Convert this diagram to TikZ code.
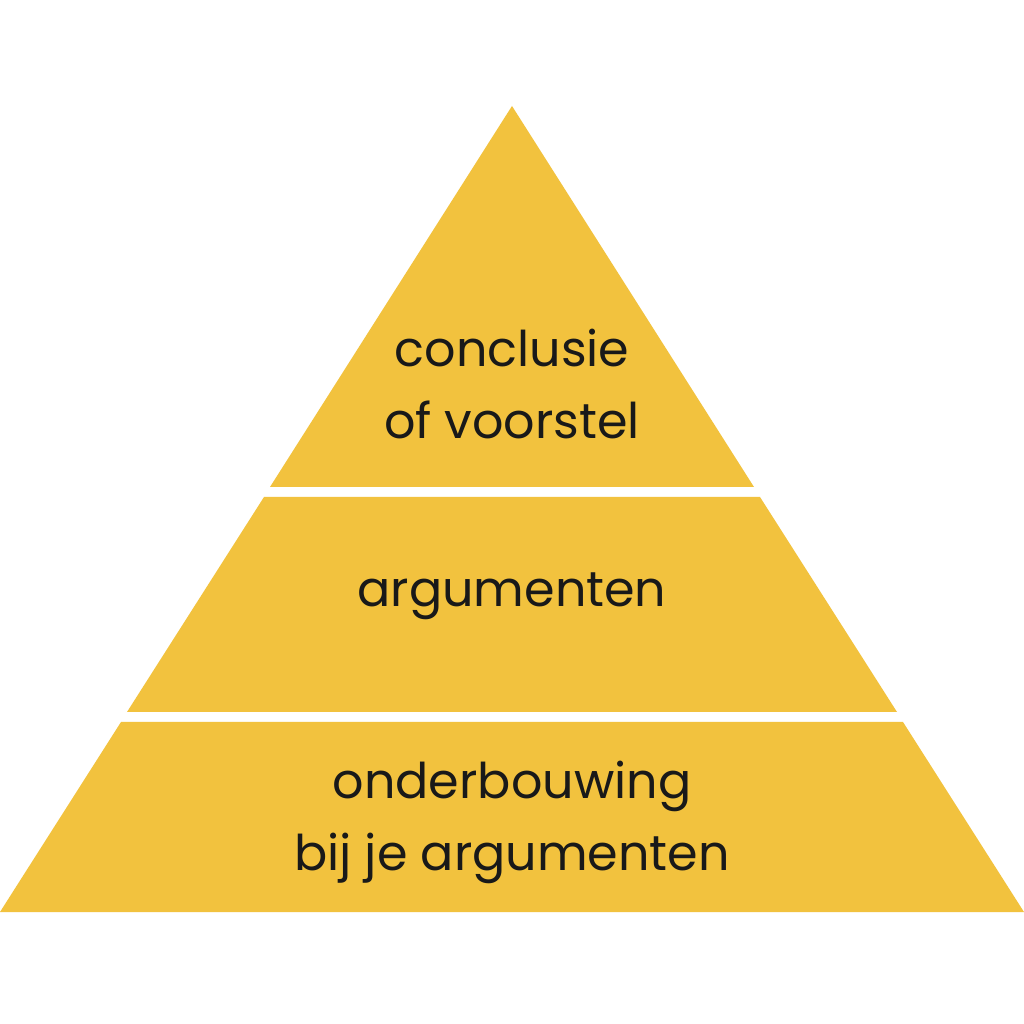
\documentclass[tikz,border=0pt]{standalone}
\usepackage{fontspec}
\setmainfont{Poppins}
\definecolor{pyrageel}{HTML}{F2C23E}
\tikzset{
  laag/.style={fill=pyrageel, draw=none},
  tekst/.style={align=center, font=\fontsize{14}{20.5}\selectfont, text=black!90}
}
\begin{document}
\begin{tikzpicture}
\useasboundingbox (0,0) rectangle (10.24,10.24);
\fill[white] (0,0) rectangle (10.24,10.24);
% lagen van de piramide
\fill[laag] (5.12,9.18) -- (7.54,5.37) -- (2.70,5.37) -- cycle;
\fill[laag] (2.64,5.27) -- (7.60,5.27) -- (8.97,3.12) -- (1.27,3.12) -- cycle;
\fill[laag] (1.21,3.02) -- (9.03,3.02) -- (10.24,1.12) -- (0,1.12) -- cycle;
% teksten
\node[tekst] (top) at (5.12,6.40) {conclusie\\of voorstel};
\node[tekst] (mid) at (5.12,4.28) {argumenten};
\node[tekst] (bodem) at (5.12,2.02) {onderbouwing\\bij je argumenten};
\end{tikzpicture}
\end{document}
